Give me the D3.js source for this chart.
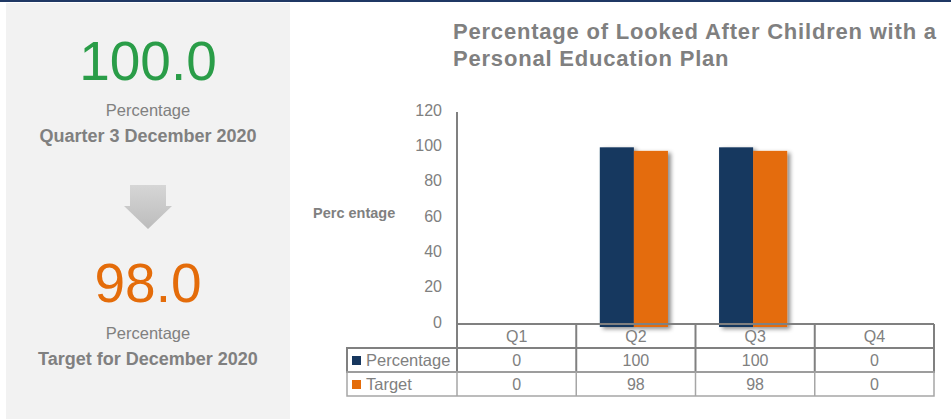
<!DOCTYPE html>
<html>
<head>
<meta charset="utf-8">
<script src="https://cdn.jsdelivr.net/npm/d3@7"></script>
<style>
  body { margin: 0; background: #fff; }
  text { font-family: "Liberation Sans", Arial, sans-serif; }
</style>
</head>
<body>
<div id="chart"></div>
<script>
// data
var quarters = ["Q1", "Q2", "Q3", "Q4"];
var seriesNames = ["Percentage", "Target"];
var percentageValues = [0, 100, 100, 0];
var targetValues = [0, 98, 98, 0];
var yTicks = [0, 20, 40, 60, 80, 100, 120];
var seriesColors = ["#17375e", "#e46c0a"];

var svgWidth = 951;
var svgHeight = 419;

var svg = d3.select("#chart")
  .append("svg")
  .attr("width", svgWidth)
  .attr("height", svgHeight);

// shadow for the bars
var defs = svg.append("defs");
defs.append("filter")
  .attr("id", "shadow")
  .attr("x", "-20%").attr("y", "-10%")
  .attr("width", "150%").attr("height", "130%")
  .append("feDropShadow")
  .attr("dx", 3).attr("dy", 2)
  .attr("stdDeviation", 2)
  .attr("flood-color", "#000")
  .attr("flood-opacity", 0.45);

var arrowGrad = defs.append("linearGradient")
  .attr("id", "arrowGrad")
  .attr("x1", 0).attr("y1", 0).attr("x2", 0).attr("y2", 1);
arrowGrad.append("stop").attr("offset", "0%").attr("stop-color", "#d6d6d6");
arrowGrad.append("stop").attr("offset", "100%").attr("stop-color", "#bcbcbc");

// top rule
svg.append("rect")
  .attr("x", 0).attr("y", 0)
  .attr("width", svgWidth).attr("height", 2)
  .attr("fill", "#1f3864");

// ---- left summary panel ----
svg.append("rect")
  .attr("x", 6).attr("y", 3)
  .attr("width", 284).attr("height", svgHeight - 3)
  .attr("fill", "#f2f2f2");

var panelX = 148;
var latest = percentageValues[2];
var target = targetValues[2];

svg.append("text")
  .attr("x", panelX).attr("y", 80)
  .attr("text-anchor", "middle")
  .attr("font-size", 55)
  .attr("fill", "#2a9d48")
  .text(latest.toFixed(1));

svg.append("text")
  .attr("x", panelX).attr("y", 116)
  .attr("text-anchor", "middle")
  .attr("font-size", 16.5)
  .attr("fill", "#808080")
  .text("Percentage");

svg.append("text")
  .attr("x", panelX).attr("y", 142)
  .attr("text-anchor", "middle")
  .attr("font-size", 18)
  .attr("font-weight", "bold")
  .attr("fill", "#808080")
  .text("Quarter 3 December 2020");

// down arrow
svg.append("path")
  .attr("d", "M130,185 L166,185 L166,206 L172,206 L148,229 L124,206 L130,206 Z")
  .attr("fill", "url(#arrowGrad)");

svg.append("text")
  .attr("x", panelX).attr("y", 302)
  .attr("text-anchor", "middle")
  .attr("font-size", 55)
  .attr("fill", "#e46c0a")
  .text(target.toFixed(1));

svg.append("text")
  .attr("x", panelX).attr("y", 339)
  .attr("text-anchor", "middle")
  .attr("font-size", 16.5)
  .attr("fill", "#808080")
  .text("Percentage");

svg.append("text")
  .attr("x", panelX).attr("y", 365)
  .attr("text-anchor", "middle")
  .attr("font-size", 18)
  .attr("font-weight", "bold")
  .attr("fill", "#808080")
  .text("Target for December 2020");

// ---- chart ----
var title = svg.append("text")
  .attr("font-size", 22)
  .attr("font-weight", "bold")
  .attr("letter-spacing", 0.8)
  .attr("fill", "#808080");
title.append("tspan").attr("x", 453).attr("y", 39)
  .text("Percentage of Looked After Children with a");
title.append("tspan").attr("x", 453).attr("y", 66)
  .text("Personal Education Plan");

var plotLeft = 457, plotRight = 934, plotTop = 112, plotBottom = 324;
var rowH = 24;

var xScale = d3.scaleBand()
  .domain(quarters)
  .range([plotLeft, plotRight]);

var xInner = d3.scaleBand()
  .domain(seriesNames)
  .range([0, xScale.bandwidth()])
  .paddingOuter(0.75);

var yScale = d3.scaleLinear()
  .domain([0, 120])
  .range([plotBottom, plotTop]);

// y axis
var leftAxis = d3.axisLeft(yScale)
  .tickValues(yTicks)
  .tickSize(0)
  .tickPadding(15);

var yAxis = svg.append("g")
  .attr("transform", `translate(${plotLeft}, 0)`)
  .call(leftAxis);
yAxis.select(".domain").remove();
yAxis.selectAll("text")
  .attr("font-size", 16)
  .attr("font-family", "Liberation Sans, Arial, sans-serif")
  .attr("fill", "#808080")
  .attr("dy", "0.2em");

svg.append("line")
  .attr("x1", plotLeft).attr("x2", plotLeft)
  .attr("y1", plotTop).attr("y2", plotBottom + rowH)
  .attr("stroke", "#808080").attr("stroke-width", 2);

svg.append("text")
  .attr("x", 313).attr("y", 218)
  .attr("font-size", 14.5)
  .attr("font-weight", "bold")
  .attr("fill", "#808080")
  .text("Perc entage");

// bars
var barData = [];
quarters.forEach(function(q, i) {
  barData.push({ q: q, s: seriesNames[0], v: percentageValues[i], c: seriesColors[0] });
  barData.push({ q: q, s: seriesNames[1], v: targetValues[i], c: seriesColors[1] });
});

svg.append("g")
  .selectAll("rect")
  .data(barData.filter(d => d.v > 0))
  .enter()
  .append("rect")
  .attr("x", d => xScale(d.q) + xInner(d.s) - 2)
  .attr("y", d => yScale(d.v))
  .attr("width", xInner.bandwidth())
  .attr("height", d => yScale(0) - yScale(d.v) + 3)
  .attr("fill", d => d.c)
  .attr("filter", "url(#shadow)");

// ---- data table ----
var table = svg.append("g");
var legendLeft = 347;

// header row (quarter labels)
table.append("line")
  .attr("x1", plotLeft).attr("x2", plotRight)
  .attr("y1", plotBottom).attr("y2", plotBottom)
  .attr("stroke", "#808080").attr("stroke-width", 2);

quarters.forEach(function(q) {
  table.append("text")
    .attr("x", xScale(q) + xScale.bandwidth() / 2)
    .attr("y", plotBottom + 18)
    .attr("text-anchor", "middle")
    .attr("font-size", 16)
    .attr("fill", "#808080")
    .text(q);
});

var rows = [
  { name: seriesNames[0], values: percentageValues, color: seriesColors[0], stroke: "#808080", sw: 2 },
  { name: seriesNames[1], values: targetValues, color: seriesColors[1], stroke: "#a6a6a6", sw: 1.5 }
];

// vertical lines of header row
quarters.forEach(function(q) {
  table.append("line")
    .attr("x1", xScale(q) + xScale.bandwidth()).attr("x2", xScale(q) + xScale.bandwidth())
    .attr("y1", plotBottom).attr("y2", plotBottom + rowH)
    .attr("stroke", "#808080").attr("stroke-width", 2);
});

rows.forEach(function(r, ri) {
  var top = plotBottom + rowH * (ri + 1);
  var g = table.append("g");
  g.append("rect")
    .attr("x", legendLeft).attr("y", top)
    .attr("width", plotRight - legendLeft).attr("height", rowH)
    .attr("fill", "none")
    .attr("stroke", r.stroke).attr("stroke-width", r.sw);
  quarters.forEach(function(q) {
    g.append("line")
      .attr("x1", xScale(q)).attr("x2", xScale(q))
      .attr("y1", top).attr("y2", top + rowH)
      .attr("stroke", r.stroke).attr("stroke-width", r.sw);
  });
  g.append("rect")
    .attr("x", 352).attr("y", top + 8)
    .attr("width", 9).attr("height", 9)
    .attr("fill", r.color);
  g.append("text")
    .attr("x", 366).attr("y", top + 18)
    .attr("font-size", 16.5)
    .attr("fill", "#808080")
    .text(r.name);
  r.values.forEach(function(v, i) {
    g.append("text")
      .attr("x", xScale(quarters[i]) + xScale.bandwidth() / 2)
      .attr("y", top + 18)
      .attr("text-anchor", "middle")
      .attr("font-size", 16)
      .attr("fill", "#808080")
      .text(v);
  });
});
</script>
</body>
</html>
